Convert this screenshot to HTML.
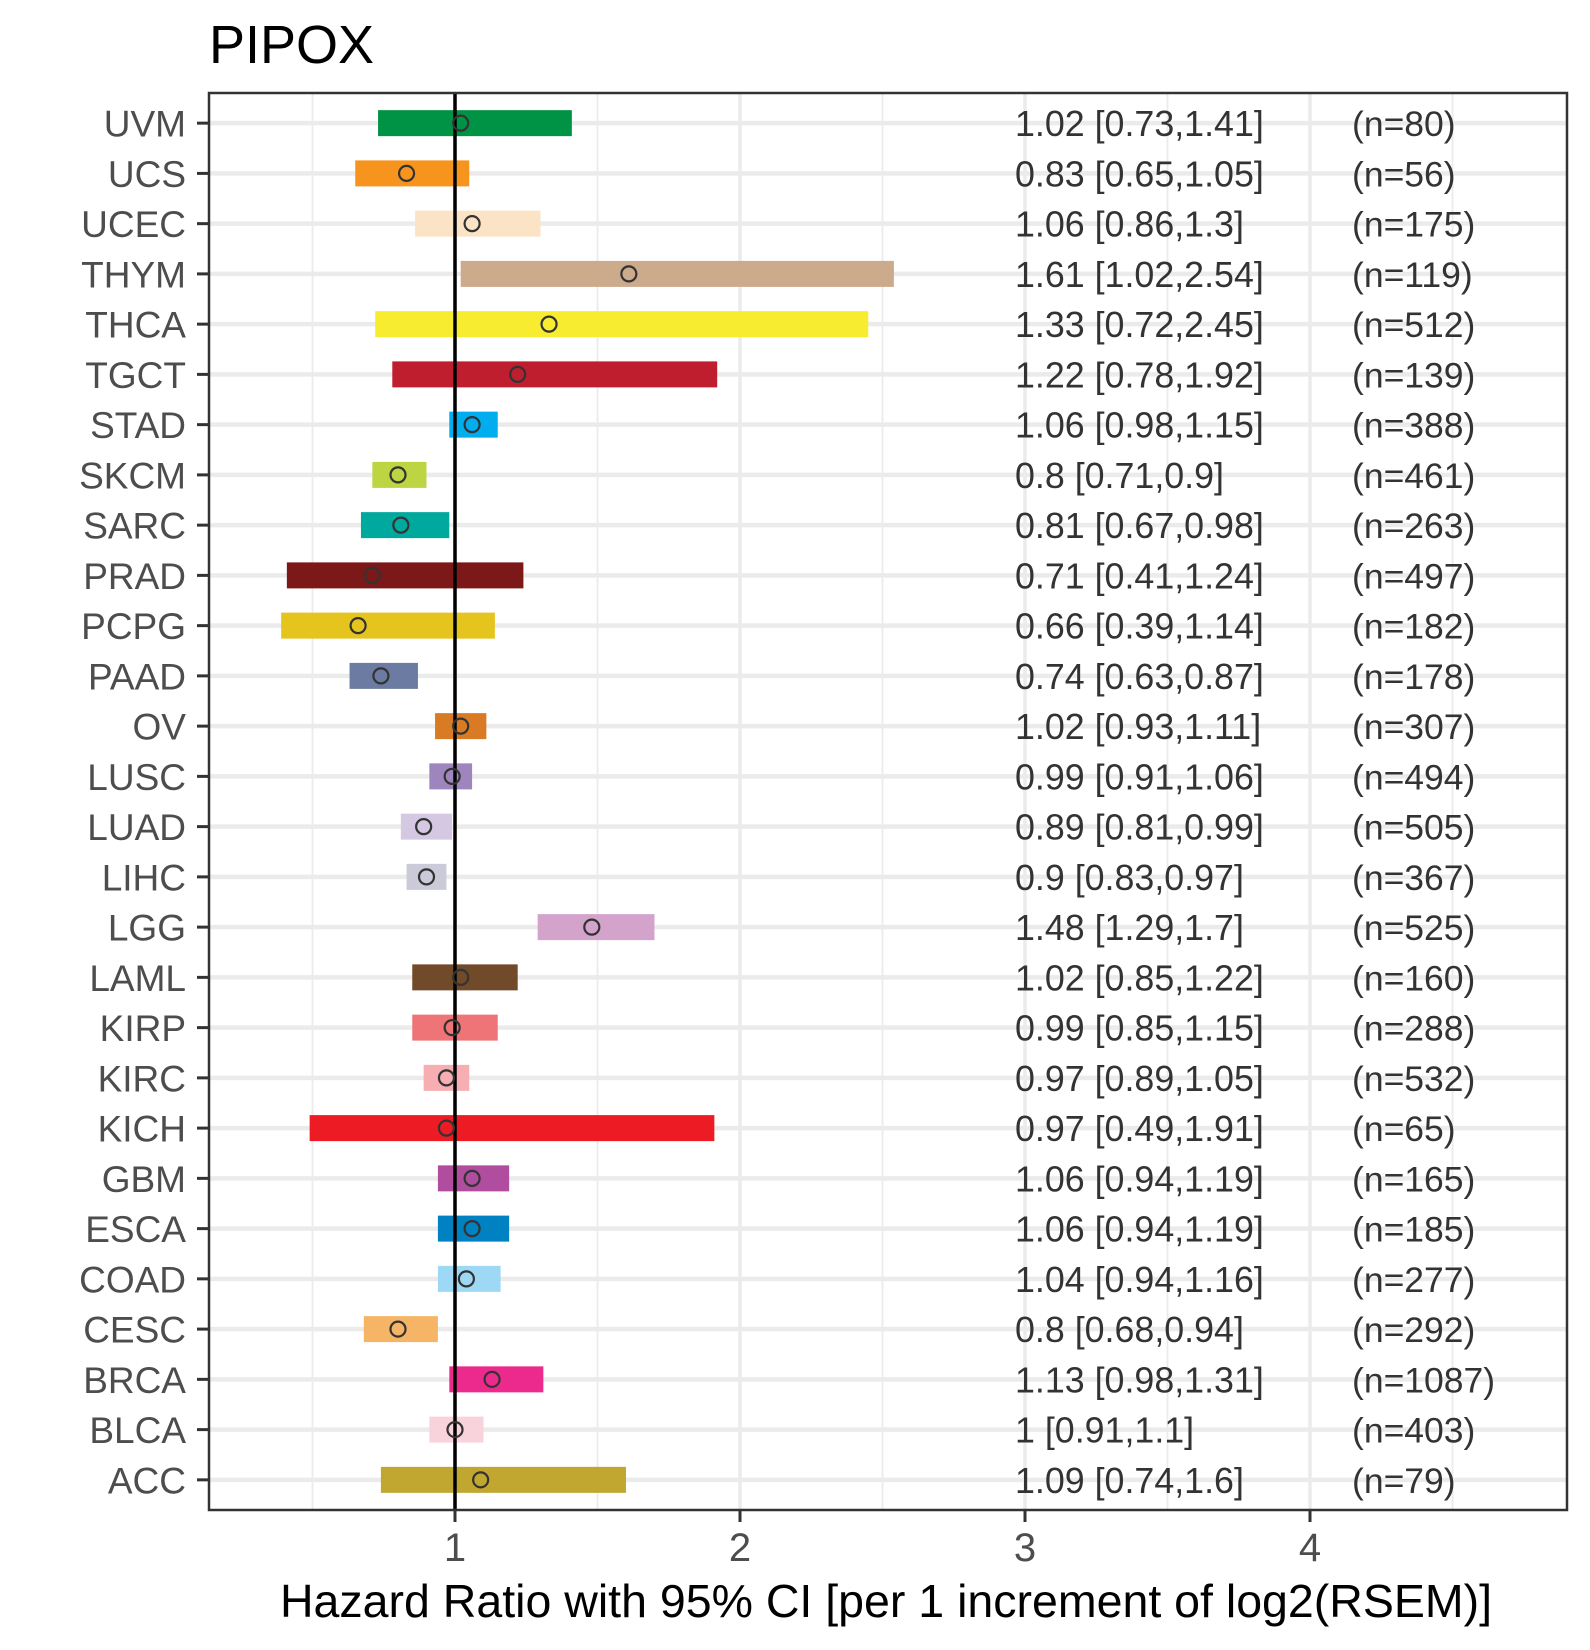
<!DOCTYPE html>
<html><head><meta charset="utf-8"><style>
html,body{margin:0;padding:0;background:#fff;}
svg{display:block;font-family:"Liberation Sans",Arial,sans-serif;}
</style></head><body>
<svg id="chart" width="1590" height="1650" viewBox="0 0 1590 1650" xmlns="http://www.w3.org/2000/svg">
<rect x="0" y="0" width="1590" height="1650" fill="#fff"/>
<text x="209" y="63" font-size="54" fill="#000">PIPOX</text>
<g id="grid"></g>
<g id="bars"></g>
<g id="refline"></g>
<g id="points"></g>
<g id="labels"></g>
<rect x="209" y="93" width="1358" height="1417" fill="none" stroke="#333" stroke-width="2.5"/>
<g id="axes"></g>
<text x="886" y="1617" font-size="46.5" text-anchor="middle" fill="#000">Hazard Ratio with 95% CI [per 1 increment of log2(RSEM)]</text>
</svg>
<script>
const cancers = ["UVM","UCS","UCEC","THYM","THCA","TGCT","STAD","SKCM","SARC","PRAD","PCPG","PAAD","OV","LUSC","LUAD","LIHC","LGG","LAML","KIRP","KIRC","KICH","GBM","ESCA","COAD","CESC","BRCA","BLCA","ACC"];
const hr   = [1.02,0.83,1.06,1.61,1.33,1.22,1.06,0.8,0.81,0.71,0.66,0.74,1.02,0.99,0.89,0.9,1.48,1.02,0.99,0.97,0.97,1.06,1.06,1.04,0.8,1.13,1,1.09];
const lower= [0.73,0.65,0.86,1.02,0.72,0.78,0.98,0.71,0.67,0.41,0.39,0.63,0.93,0.91,0.81,0.83,1.29,0.85,0.85,0.89,0.49,0.94,0.94,0.94,0.68,0.98,0.91,0.74];
const upper= [1.41,1.05,1.3,2.54,2.45,1.92,1.15,0.9,0.98,1.24,1.14,0.87,1.11,1.06,0.99,0.97,1.7,1.22,1.15,1.05,1.91,1.19,1.19,1.16,0.94,1.31,1.1,1.6];
const nvals= [80,56,175,119,512,139,388,461,263,497,182,178,307,494,505,367,525,160,288,532,65,165,185,277,292,1087,403,79];
const colors=["#009245","#F7941D","#FBE3C6","#CCAA8C","#F7EC2F","#BE1E2D","#00AEEF","#BDD443","#00A99D","#7D1819","#E6C41E","#6C7BA1","#D87B24","#9F85BE","#D5C8E2","#CACAD8","#D3A3CC","#714A2A","#EE7477","#F6AEB2","#ED1C24","#B04D9F","#0081C2","#9DD9F4","#F6B467","#EC2A8E","#F9D3DC","#C1A72F"];
const xTicks=[1,2,3,4];
const xMinor=[0.5,1.5,2.5,3.5,4.5];
const NS="http://www.w3.org/2000/svg";
const X0=209,X1=1567,Y0=93,Y1=1510;
const UNIT=285, XREF=455;
function xs(v){return XREF+(v-1)*UNIT;}
const n=cancers.length;
const step=(Y1-Y0)/(n-1+1.2);
function ys(i){return Y0+0.6*step+i*step;}
function mk(tag,attrs,parent){const e=document.createElementNS(NS,tag);for(const k in attrs)e.setAttribute(k,attrs[k]);parent.appendChild(e);return e;}
const grid=document.getElementById('grid'),bars=document.getElementById('bars'),pts=document.getElementById('points'),lab=document.getElementById('labels'),axes=document.getElementById('axes'),ref=document.getElementById('refline');
xMinor.forEach(v=>{const x=xs(v);if(x<X0||x>X1)return;
 const l=mk('line',{x1:x,x2:x,y1:Y0,y2:Y1,stroke:'#EBEBEB','stroke-width':1.8},grid);
 
 });
xTicks.forEach(v=>{const x=xs(v);
 const l=mk('line',{x1:x,x2:x,y1:Y0,y2:Y1,stroke:'#EBEBEB','stroke-width':3.5},grid);
 
 
 const t=mk('line',{x1:x,x2:x,y1:Y1,y2:Y1+12,stroke:'#333','stroke-width':3},axes);
 
 
 const tx=mk('text',{x:x,y:1561,'font-size':40,'text-anchor':'middle',fill:'#4D4D4D'},axes);
 tx.textContent=String(v);
 
 });
cancers.forEach((c,i)=>{const y=ys(i);
 const g=mk('line',{x1:X0,x2:X1,y1:y,y2:y,stroke:'#EBEBEB','stroke-width':4.5},grid);
 
 
 const r=mk('rect',{x:xs(lower[i]),y:y-13,width:xs(upper[i])-xs(lower[i]),height:26,fill:colors[i]},bars);
 
 
 const p=mk('circle',{cx:xs(hr[i]),cy:y,r:7.5,fill:'none',stroke:'#333','stroke-width':2.2},pts);
 
 
 const t=mk('line',{x1:197,x2:209,y1:y,y2:y,stroke:'#333','stroke-width':3},axes);
 
 
 const yl=mk('text',{x:186,y:y+13.5,'font-size':37,'text-anchor':'end',fill:'#4D4D4D'},axes);
 yl.textContent=c;
 
 
 const ht=mk('text',{x:1015,y:y+13,'font-size':35.8,fill:'#333'},lab);
 ht.textContent=hr[i]+' ['+lower[i]+','+upper[i]+']';
 
 
 const nt=mk('text',{x:1352,y:y+13,'font-size':35.5,fill:'#333'},lab);
 nt.textContent='(n='+nvals[i]+')';
 
 });
const rl=mk('line',{x1:xs(1),x2:xs(1),y1:Y0,y2:Y1,stroke:'#000','stroke-width':3.5},ref);


</script>
</body></html>
